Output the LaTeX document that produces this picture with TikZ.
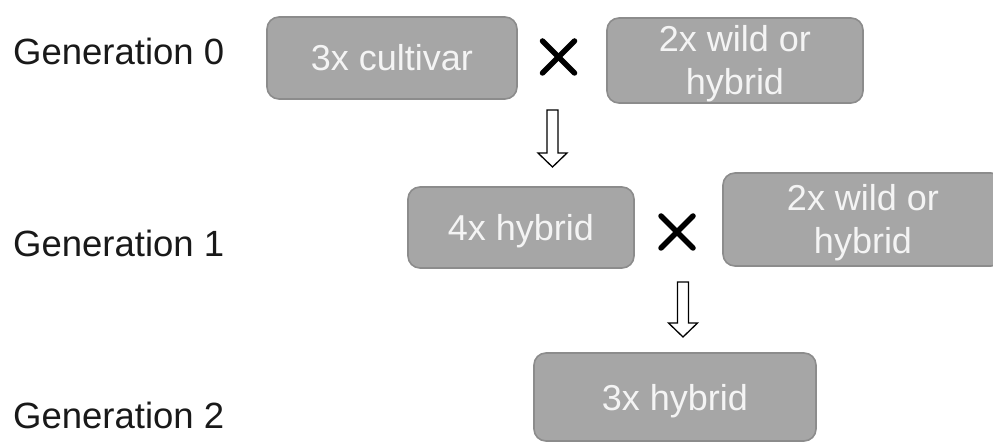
\documentclass[tikz,border=0pt]{standalone}
\usepackage{fontspec}
\setmainfont{Liberation Sans}
\definecolor{boxfill}{HTML}{A6A6A6}
\definecolor{boxline}{HTML}{8C8C8C}
\definecolor{boxtext}{HTML}{F4F4F4}
\begin{document}
\begin{tikzpicture}[x=1pt,y=-1pt,
  genbox/.style={draw=boxline, line width=1.6pt, fill=boxfill, rounded corners=12pt,
    text=boxtext, inner sep=0pt, font=\fontsize{36}{43}\selectfont,
    text height=26pt, text depth=0pt},
  boxline/.style={text=boxtext, inner sep=0pt, anchor=base, font=\fontsize{36}{43}\selectfont},
  genlabel/.style={anchor=base west, inner sep=0pt, text=black!90, font=\fontsize{36.5}{43}\selectfont},
  crossmark/.style={line width=5.5pt, line cap=round, black},
  hollowarrow/.style={draw=black, line width=1.3pt, fill=white, line join=miter}]
\clip (0,0) rectangle (993,443);
\fill[white] (0,0) rectangle (993,443);

% generation labels
\node[genlabel] (g0) at (13,65) {Generation 0};
\node[genlabel] (g1) at (13,257) {Generation 1};
\node[genlabel] (g2) at (13,428) {Generation 2};

% boxes
\node[genbox, minimum width=250pt, minimum height=82pt] (a) at (392,58) {3x cultivar};
\node[genbox, minimum width=256pt, minimum height=85pt] (b) at (735,60.5) {};
\node[boxline] (b1) at ([yshift=8.5pt]b.center) {2x wild or};
\node[boxline] (b2) at ([yshift=-34.5pt]b.center) {hybrid};

\node[genbox, minimum width=226pt, minimum height=81pt] (c) at (521,227.5) {4x hybrid};
\node[genbox, minimum width=280pt, minimum height=93pt] (d) at (863,219.5) {};
\node[boxline] (d1) at ([yshift=8.5pt]d.center) {2x wild or};
\node[boxline] (d2) at ([yshift=-34.5pt]d.center) {hybrid};

\node[genbox, minimum width=282pt, minimum height=88pt] (e) at (675,397) {3x hybrid};

% crosses
\coordinate (x1) at (558.5,57);
\coordinate (x2) at (677,232);
\foreach \c in {x1,x2}{
  \draw[crossmark] ([shift={(-16,-16)}]\c) -- ([shift={(16,16)}]\c);
  \draw[crossmark] ([shift={(-16,16)}]\c) -- ([shift={(16,-16)}]\c);
}

% hollow arrows
\coordinate (ar1) at (552.5,110);
\coordinate (ar2) at (683,282);
\draw[hollowarrow] ([xshift=-5.5pt]ar1) -- ++(0,43) -- ++(-9,0) -- ++(14.5,14) -- ++(14.5,-14) -- ++(-9,0) -- ++(0,-43) -- cycle;
\draw[hollowarrow] ([xshift=-5.5pt]ar2) -- ++(0,41) -- ++(-9,0) -- ++(14.5,14) -- ++(14.5,-14) -- ++(-9,0) -- ++(0,-41) -- cycle;
\end{tikzpicture}
\end{document}
